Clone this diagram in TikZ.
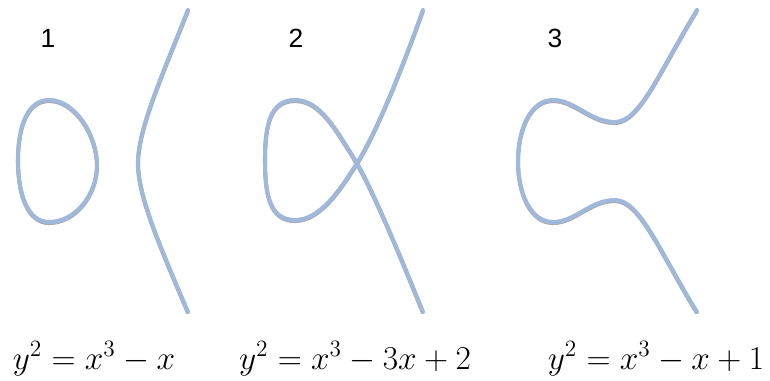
\documentclass[tikz,border=0pt]{standalone}
\usepackage{fix-cm}
\usepackage{fontspec}
\usepackage{tikz}
\newfontfamily\arialfont{Liberation Sans}
\definecolor{curveblue}{HTML}{A0B8DA}
\definecolor{curveshade}{HTML}{A9AAB4}
\tikzset{
  curve/.style={draw=curveblue, line width=2.3pt, line cap=round, line join=round,
    preaction={draw=curveshade, line width=2.3pt, transform canvas={yshift=-0.6pt}}},
  numlabel/.style={font=\arialfont\fontsize{15}{17}\selectfont},
  eqlabel/.style={font=\fontsize{19}{22}\selectfont, anchor=base}
}

\begin{document}
\begin{tikzpicture}[x=0.02cm, y=-0.02cm]
  \useasboundingbox (0,0) rectangle (770,381);

  % curve 1: oval and branch
  \draw[curve] (49,100) .. controls (75,100) and (97,135) .. (97,165)
    .. controls (97,195) and (75,222) .. (49,222)
    .. controls (28,222) and (18,195) .. (18,160)
    .. controls (18,125) and (28,100) .. (49,100) -- cycle;
  \draw[curve] (188,10) .. controls (160,80) and (138,130) .. (138,163)
    .. controls (138,196) and (160,246) .. (188,312);

  % curve 2: node at the crossing
  \draw[curve] (423,312) .. controls (400,255) and (375,195) .. (357,163)
    .. controls (335,128) and (320,100) .. (295,100)
    .. controls (270,100) and (265,125) .. (265,160)
    .. controls (265,195) and (270,220) .. (295,220)
    .. controls (320,220) and (340,190) .. (357,163)
    .. controls (378,130) and (405,60) .. (423,10);

  % curve 3: one branch
  \draw[curve] (697,10) .. controls (660,70) and (640,122) .. (615,122)
    .. controls (590,122) and (575,100) .. (553,100)
    .. controls (530,100) and (518,130) .. (518,161)
    .. controls (518,192) and (530,222) .. (553,222)
    .. controls (575,222) and (590,200) .. (615,200)
    .. controls (640,200) and (660,252) .. (697,312);

  \node[numlabel] (lab1) at (48,38) {1};
  \node[numlabel] (lab2) at (296,38) {2};
  \node[numlabel] (lab3) at (555,38) {3};

  \node[eqlabel] (eq1) at (94,369) {$y^2=x^3-x$};
  \node[eqlabel] (eq2) at (355,369) {$y^2=x^3-3x+2$};
  \node[eqlabel] (eq3) at (656,369) {$y^2=x^3-x+1$};
\end{tikzpicture}
\end{document}
